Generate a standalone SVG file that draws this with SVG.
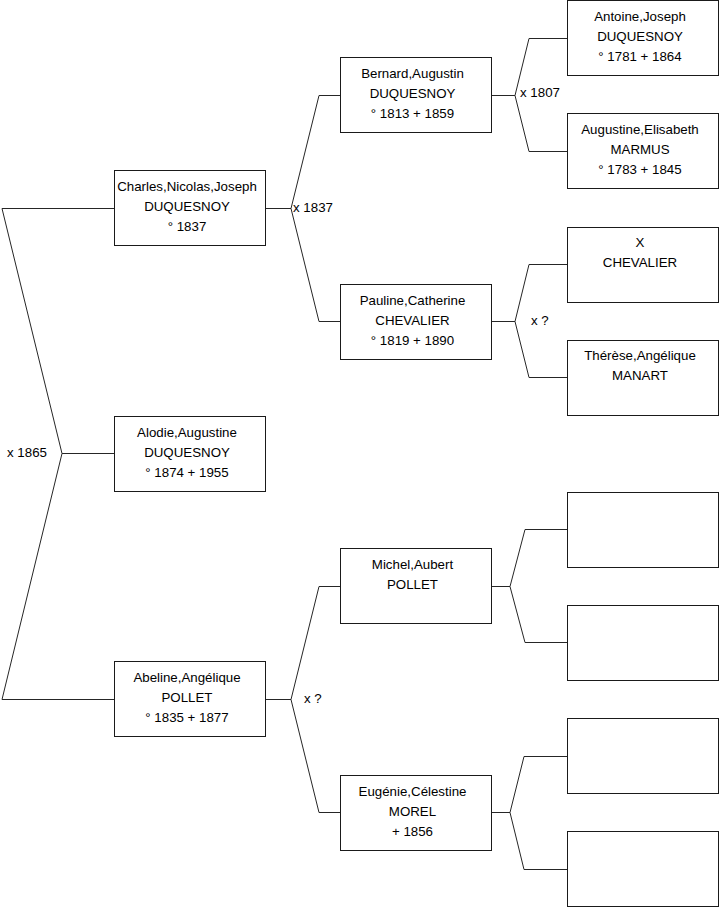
<svg xmlns="http://www.w3.org/2000/svg" width="719" height="908" viewBox="0 0 719 908">
<style>
.box{fill:#fff;stroke:#1a1a1a;stroke-width:1}
.ln{fill:none;stroke:#262626;stroke-width:1}
text{font-family:"Liberation Sans",Arial,sans-serif;font-size:13.3px;fill:#000}
.c{text-anchor:middle}
</style>
<rect width="719" height="908" fill="#fff"/>
<g id="connectors">
<polyline class="ln" points="114,208.5 2,208.5 62,453.5 2,699.5 114,699.5"/>
<line class="ln" x1="62" y1="453.5" x2="114" y2="453.5"/>
<polyline class="ln" points="340,95.5 319,95.5 291,208.5 265,208.5"/>
<polyline class="ln" points="340,321.5 319,321.5 291,208.5"/>
<polyline class="ln" points="567,38.5 529,38.5 515,95.5 491,95.5"/>
<polyline class="ln" points="567,151.5 529,151.5 515,95.5"/>
<polyline class="ln" points="567,264.5 529,264.5 515,321.5 491,321.5"/>
<polyline class="ln" points="567,377.5 529,377.5 515,321.5"/>
<polyline class="ln" points="340,586.5 319,586.5 291,699.5 265,699.5"/>
<polyline class="ln" points="340,812.5 319,812.5 291,699.5"/>
<polyline class="ln" points="567,529.5 525,529.5 510,586.5 491,586.5"/>
<polyline class="ln" points="567,642.5 525,642.5 510,586.5"/>
<polyline class="ln" points="567,756.5 524,756.5 510,812.5 491,812.5"/>
<polyline class="ln" points="567,869.5 524,869.5 510,812.5"/>
<text x="7" y="457">x 1865</text>
<text x="293" y="212">x 1837</text>
<text x="520" y="97">x 1807</text>
<text x="531" y="325">x ?</text>
<text x="304" y="703">x ?</text>
</g>
<g id="charles">
<rect class="box" x="114.5" y="170.5" width="151" height="75"/>
<text class="c" x="187" y="191">Charles,Nicolas,Joseph</text>
<text class="c" x="187" y="211">DUQUESNOY</text>
<text class="c" x="187" y="231">° 1837</text>
</g>
<g id="alodie">
<rect class="box" x="114.5" y="416.5" width="151" height="75"/>
<text class="c" x="187" y="437">Alodie,Augustine</text>
<text class="c" x="187" y="457">DUQUESNOY</text>
<text class="c" x="187" y="477">° 1874 + 1955</text>
</g>
<g id="abeline">
<rect class="box" x="114.5" y="661.5" width="151" height="75"/>
<text class="c" x="187" y="682">Abeline,Angélique</text>
<text class="c" x="187" y="702">POLLET</text>
<text class="c" x="187" y="722">° 1835 + 1877</text>
</g>
<g id="bernard">
<rect class="box" x="340.5" y="57.5" width="151" height="75"/>
<text class="c" x="412.5" y="78">Bernard,Augustin</text>
<text class="c" x="412.5" y="98">DUQUESNOY</text>
<text class="c" x="412.5" y="118">° 1813 + 1859</text>
</g>
<g id="pauline">
<rect class="box" x="340.5" y="284.5" width="151" height="75"/>
<text class="c" x="412.5" y="305">Pauline,Catherine</text>
<text class="c" x="412.5" y="325">CHEVALIER</text>
<text class="c" x="412.5" y="345">° 1819 + 1890</text>
</g>
<g id="michel">
<rect class="box" x="340.5" y="548.5" width="151" height="75"/>
<text class="c" x="412.5" y="569">Michel,Aubert</text>
<text class="c" x="412.5" y="589">POLLET</text>
</g>
<g id="eugenie">
<rect class="box" x="340.5" y="775.5" width="151" height="75"/>
<text class="c" x="412.5" y="796">Eugénie,Célestine</text>
<text class="c" x="412.5" y="816">MOREL</text>
<text class="c" x="412.5" y="836">+ 1856</text>
</g>
<g id="antoine">
<rect class="box" x="567.5" y="0.5" width="151" height="75"/>
<text class="c" x="640" y="21">Antoine,Joseph</text>
<text class="c" x="640" y="41">DUQUESNOY</text>
<text class="c" x="640" y="61">° 1781 + 1864</text>
</g>
<g id="augustine">
<rect class="box" x="567.5" y="113.5" width="151" height="75"/>
<text class="c" x="640" y="134">Augustine,Elisabeth</text>
<text class="c" x="640" y="154">MARMUS</text>
<text class="c" x="640" y="174">° 1783 + 1845</text>
</g>
<g id="x-chevalier">
<rect class="box" x="567.5" y="227.5" width="151" height="75"/>
<text class="c" x="640" y="247">X</text>
<text class="c" x="640" y="267">CHEVALIER</text>
</g>
<g id="therese">
<rect class="box" x="567.5" y="340.5" width="151" height="75"/>
<text class="c" x="640" y="360">Thérèse,Angélique</text>
<text class="c" x="640" y="380">MANART</text>
</g>
<g id="empty1"><rect class="box" x="567.5" y="492.5" width="151" height="75"/></g>
<g id="empty2"><rect class="box" x="567.5" y="605.5" width="151" height="75"/></g>
<g id="empty3"><rect class="box" x="567.5" y="718.5" width="151" height="75"/></g>
<g id="empty4"><rect class="box" x="567.5" y="831.5" width="151" height="75"/></g>
</svg>
